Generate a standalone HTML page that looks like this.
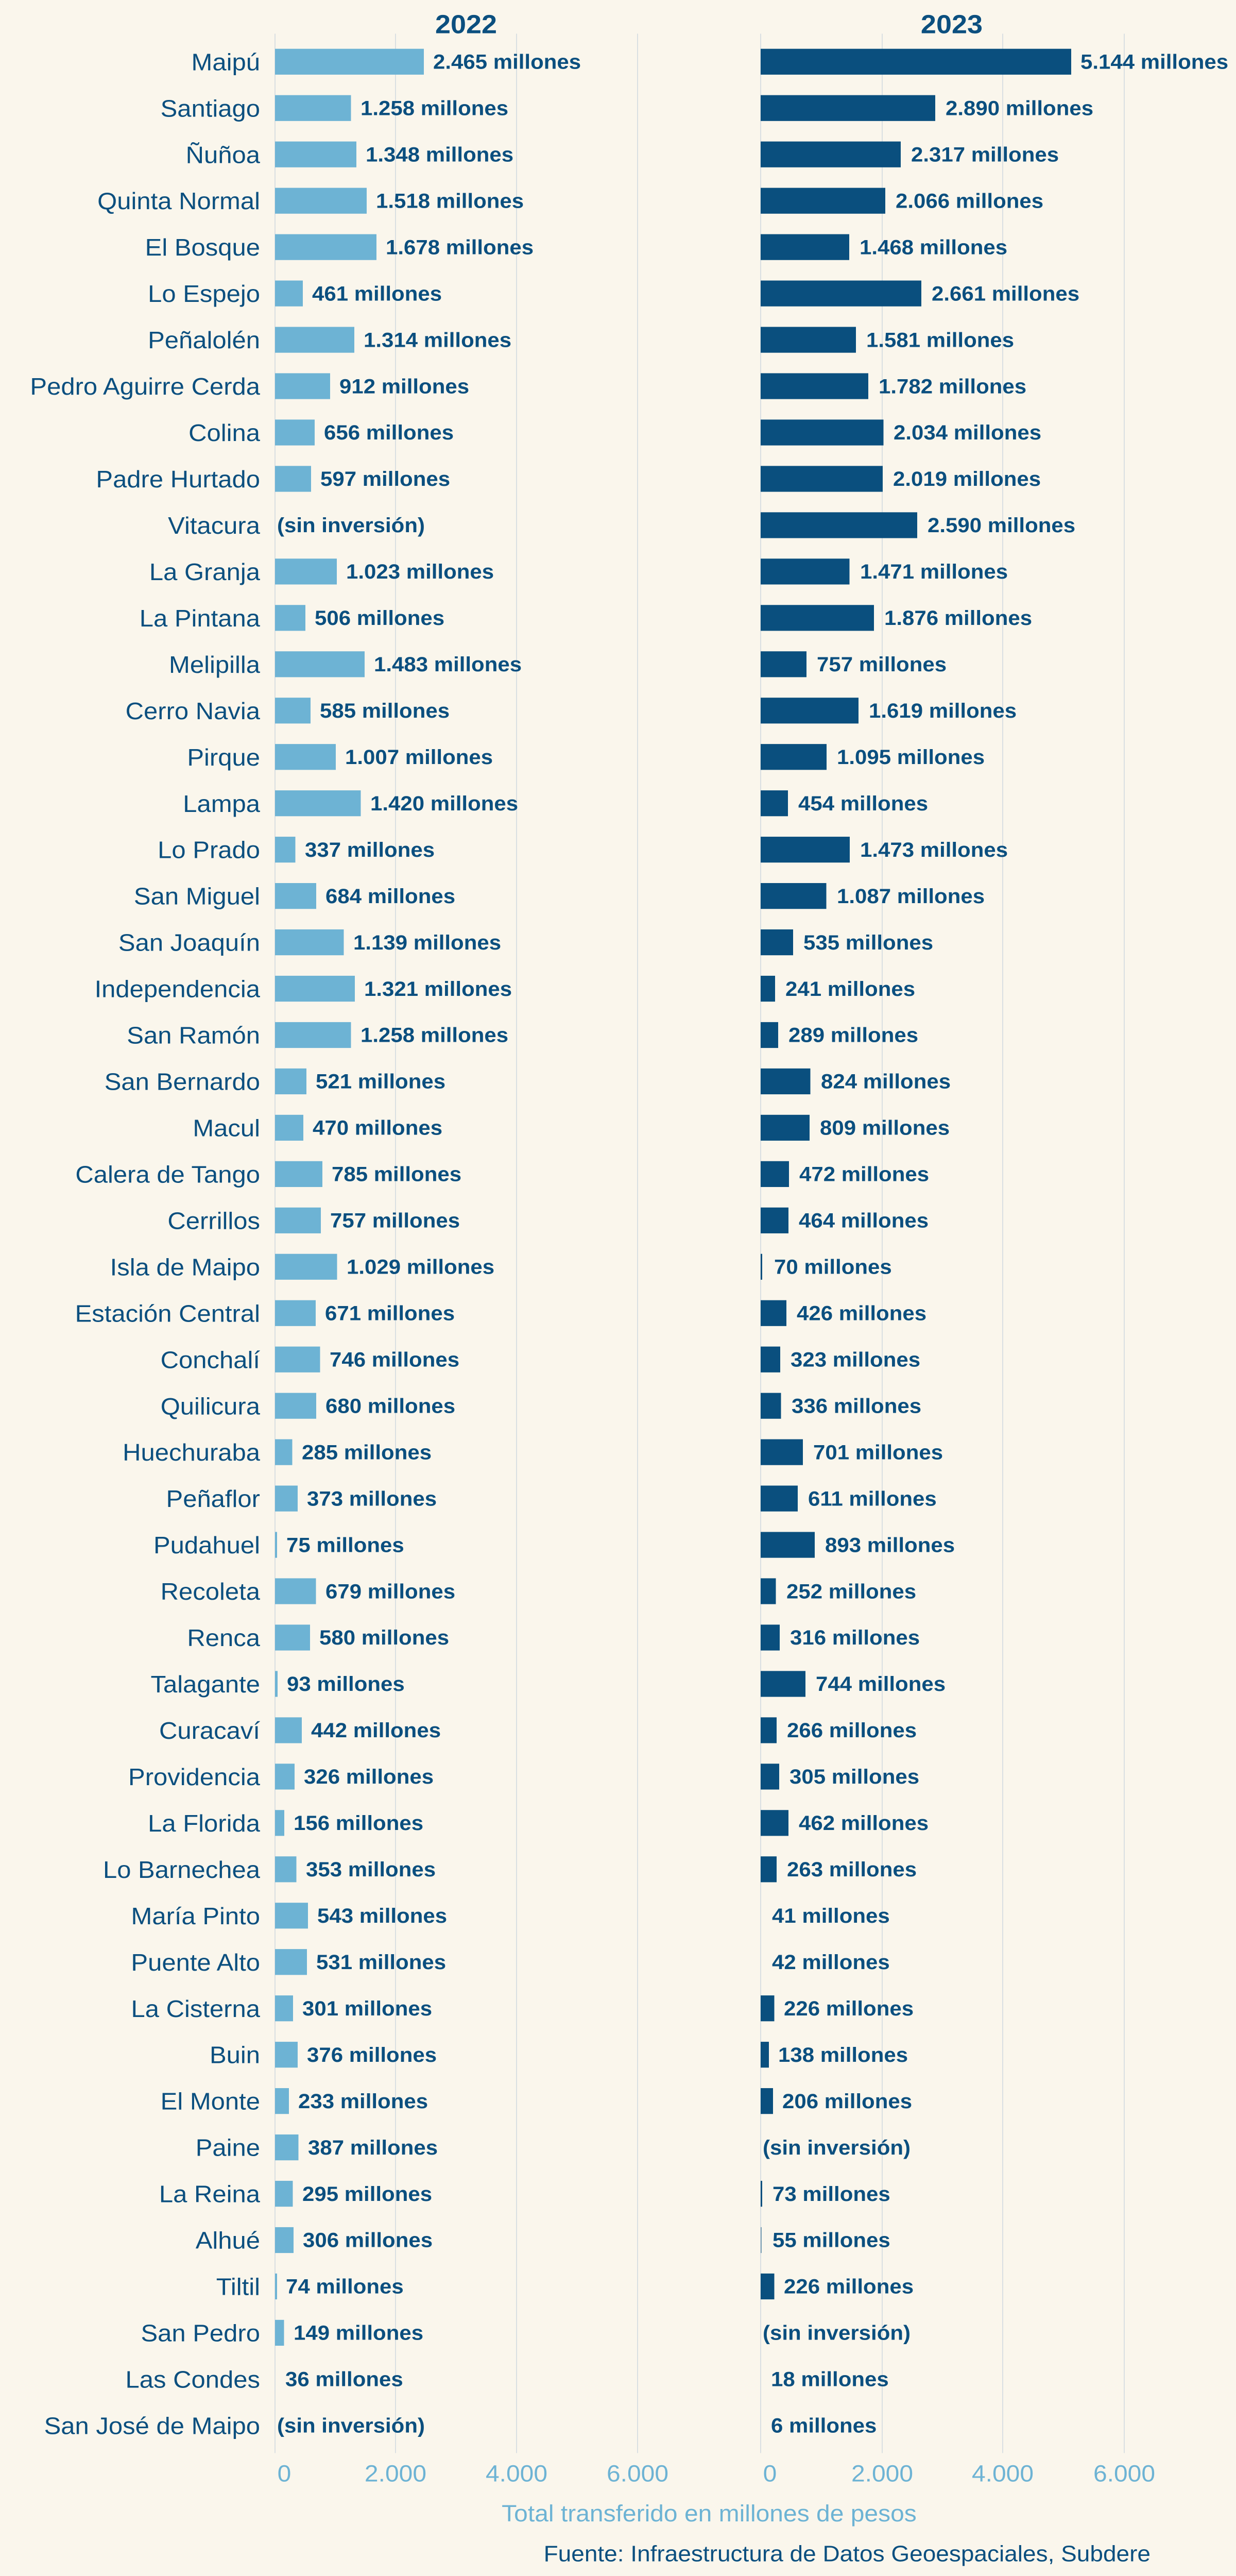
<!DOCTYPE html>
<html><head><meta charset="utf-8"><style>
html,body{margin:0;padding:0;background:#faf6ec;width:100%;height:100%;overflow:hidden;}
svg{display:block;position:fixed;left:0;top:0;width:100vw;height:100vh}
.l{font-family:"Liberation Sans",sans-serif;font-size:49px;fill:#0b4f7f;text-anchor:end}
.v{font-family:"Liberation Sans",sans-serif;font-size:42px;font-weight:bold;fill:#0b4f7f}
.t{font-family:"Liberation Sans",sans-serif;font-size:48px;fill:#6db3d4;text-anchor:middle}
.a{fill:#6db3d4}.b{fill:#0a4f7e}
</style></head><body>
<svg viewBox="0 0 2400 5280" preserveAspectRatio="none" xmlns="http://www.w3.org/2000/svg">
<rect width="2400" height="5280" fill="#faf6ec"/>
<g stroke="#d9dfe2" stroke-width="2">
<line x1="534" y1="69" x2="534" y2="5028"/><line x1="768" y1="69" x2="768" y2="5028"/><line x1="1003" y1="69" x2="1003" y2="5028"/><line x1="1238" y1="69" x2="1238" y2="5028"/>
<line x1="1477" y1="69" x2="1477" y2="5028"/><line x1="1713" y1="69" x2="1713" y2="5028"/><line x1="1947" y1="69" x2="1947" y2="5028"/><line x1="2183" y1="69" x2="2183" y2="5028"/>
</g>
<text x="905" y="68" font-family="Liberation Sans,sans-serif" font-size="54" font-weight="bold" fill="#0b4f7f" text-anchor="middle">2022</text>
<text x="1848" y="68" font-family="Liberation Sans,sans-serif" font-size="54" font-weight="bold" fill="#0b4f7f" text-anchor="middle">2023</text>

<g transform="translate(0,100)"><text class="l" x="505" y="44">Maipú</text><rect class="a" x="534" y="0" width="289" height="53"/><text class="v" x="841" y="41">2.465 millones</text><rect class="b" x="1477" y="0" width="603" height="53"/><text class="v" x="2098" y="41">5.144 millones</text></g>
<g transform="translate(0,195)"><text class="l" x="505" y="44">Santiago</text><rect class="a" x="534" y="0" width="147.5" height="53"/><text class="v" x="700" y="41">1.258 millones</text><rect class="b" x="1477" y="0" width="339" height="53"/><text class="v" x="1836" y="41">2.890 millones</text></g>
<g transform="translate(0,290)"><text class="l" x="505" y="44">Ñuñoa</text><rect class="a" x="534" y="0" width="158" height="53"/><text class="v" x="710" y="41">1.348 millones</text><rect class="b" x="1477" y="0" width="272" height="53"/><text class="v" x="1769" y="41">2.317 millones</text></g>
<g transform="translate(0,385)"><text class="l" x="505" y="44">Quinta Normal</text><rect class="a" x="534" y="0" width="178" height="53"/><text class="v" x="730" y="41">1.518 millones</text><rect class="b" x="1477" y="0" width="242" height="53"/><text class="v" x="1739" y="41">2.066 millones</text></g>
<g transform="translate(0,480)"><text class="l" x="505" y="44">El Bosque</text><rect class="a" x="534" y="0" width="197" height="53"/><text class="v" x="749" y="41">1.678 millones</text><rect class="b" x="1477" y="0" width="172" height="53"/><text class="v" x="1669" y="41">1.468 millones</text></g>
<g transform="translate(0,575)"><text class="l" x="505" y="44">Lo Espejo</text><rect class="a" x="534" y="0" width="54" height="53"/><text class="v" x="606" y="41">461 millones</text><rect class="b" x="1477" y="0" width="312" height="53"/><text class="v" x="1809" y="41">2.661 millones</text></g>
<g transform="translate(0,670)"><text class="l" x="505" y="44">Peñalolén</text><rect class="a" x="534" y="0" width="154" height="53"/><text class="v" x="706" y="41">1.314 millones</text><rect class="b" x="1477" y="0" width="185" height="53"/><text class="v" x="1682" y="41">1.581 millones</text></g>
<g transform="translate(0,765)"><text class="l" x="505" y="44">Pedro Aguirre Cerda</text><rect class="a" x="534" y="0" width="107" height="53"/><text class="v" x="659" y="41">912 millones</text><rect class="b" x="1477" y="0" width="209" height="53"/><text class="v" x="1706" y="41">1.782 millones</text></g>
<g transform="translate(0,860)"><text class="l" x="505" y="44">Colina</text><rect class="a" x="534" y="0" width="77" height="53"/><text class="v" x="629" y="41">656 millones</text><rect class="b" x="1477" y="0" width="238.5" height="53"/><text class="v" x="1735" y="41">2.034 millones</text></g>
<g transform="translate(0,955)"><text class="l" x="505" y="44">Padre Hurtado</text><rect class="a" x="534" y="0" width="70" height="53"/><text class="v" x="622" y="41">597 millones</text><rect class="b" x="1477" y="0" width="237" height="53"/><text class="v" x="1734" y="41">2.019 millones</text></g>
<g transform="translate(0,1050)"><text class="l" x="505" y="44">Vitacura</text><text class="v" x="538" y="41">(sin inversión)</text><rect class="b" x="1477" y="0" width="304" height="53"/><text class="v" x="1801" y="41">2.590 millones</text></g>
<g transform="translate(0,1145)"><text class="l" x="505" y="44">La Granja</text><rect class="a" x="534" y="0" width="120" height="53"/><text class="v" x="672" y="41">1.023 millones</text><rect class="b" x="1477" y="0" width="172.5" height="53"/><text class="v" x="1670" y="41">1.471 millones</text></g>
<g transform="translate(0,1240)"><text class="l" x="505" y="44">La Pintana</text><rect class="a" x="534" y="0" width="59" height="53"/><text class="v" x="611" y="41">506 millones</text><rect class="b" x="1477" y="0" width="220" height="53"/><text class="v" x="1717" y="41">1.876 millones</text></g>
<g transform="translate(0,1335)"><text class="l" x="505" y="44">Melipilla</text><rect class="a" x="534" y="0" width="174" height="53"/><text class="v" x="726" y="41">1.483 millones</text><rect class="b" x="1477" y="0" width="89" height="53"/><text class="v" x="1586" y="41">757 millones</text></g>
<g transform="translate(0,1430)"><text class="l" x="505" y="44">Cerro Navia</text><rect class="a" x="534" y="0" width="69" height="53"/><text class="v" x="621" y="41">585 millones</text><rect class="b" x="1477" y="0" width="190" height="53"/><text class="v" x="1687" y="41">1.619 millones</text></g>
<g transform="translate(0,1525)"><text class="l" x="505" y="44">Pirque</text><rect class="a" x="534" y="0" width="118" height="53"/><text class="v" x="670" y="41">1.007 millones</text><rect class="b" x="1477" y="0" width="128" height="53"/><text class="v" x="1625" y="41">1.095 millones</text></g>
<g transform="translate(0,1620)"><text class="l" x="505" y="44">Lampa</text><rect class="a" x="534" y="0" width="166.5" height="53"/><text class="v" x="719" y="41">1.420 millones</text><rect class="b" x="1477" y="0" width="53" height="53"/><text class="v" x="1550" y="41">454 millones</text></g>
<g transform="translate(0,1715)"><text class="l" x="505" y="44">Lo Prado</text><rect class="a" x="534" y="0" width="39.5" height="53"/><text class="v" x="592" y="41">337 millones</text><rect class="b" x="1477" y="0" width="173" height="53"/><text class="v" x="1670" y="41">1.473 millones</text></g>
<g transform="translate(0,1810)"><text class="l" x="505" y="44">San Miguel</text><rect class="a" x="534" y="0" width="80" height="53"/><text class="v" x="632" y="41">684 millones</text><rect class="b" x="1477" y="0" width="127.5" height="53"/><text class="v" x="1625" y="41">1.087 millones</text></g>
<g transform="translate(0,1905)"><text class="l" x="505" y="44">San Joaquín</text><rect class="a" x="534" y="0" width="133.5" height="53"/><text class="v" x="686" y="41">1.139 millones</text><rect class="b" x="1477" y="0" width="63" height="53"/><text class="v" x="1560" y="41">535 millones</text></g>
<g transform="translate(0,2000)"><text class="l" x="505" y="44">Independencia</text><rect class="a" x="534" y="0" width="155" height="53"/><text class="v" x="707" y="41">1.321 millones</text><rect class="b" x="1477" y="0" width="28" height="53"/><text class="v" x="1525" y="41">241 millones</text></g>
<g transform="translate(0,2095)"><text class="l" x="505" y="44">San Ramón</text><rect class="a" x="534" y="0" width="147.5" height="53"/><text class="v" x="700" y="41">1.258 millones</text><rect class="b" x="1477" y="0" width="34" height="53"/><text class="v" x="1531" y="41">289 millones</text></g>
<g transform="translate(0,2190)"><text class="l" x="505" y="44">San Bernardo</text><rect class="a" x="534" y="0" width="61" height="53"/><text class="v" x="613" y="41">521 millones</text><rect class="b" x="1477" y="0" width="96.5" height="53"/><text class="v" x="1594" y="41">824 millones</text></g>
<g transform="translate(0,2285)"><text class="l" x="505" y="44">Macul</text><rect class="a" x="534" y="0" width="55" height="53"/><text class="v" x="607" y="41">470 millones</text><rect class="b" x="1477" y="0" width="95" height="53"/><text class="v" x="1592" y="41">809 millones</text></g>
<g transform="translate(0,2380)"><text class="l" x="505" y="44">Calera de Tango</text><rect class="a" x="534" y="0" width="92" height="53"/><text class="v" x="644" y="41">785 millones</text><rect class="b" x="1477" y="0" width="55" height="53"/><text class="v" x="1552" y="41">472 millones</text></g>
<g transform="translate(0,2475)"><text class="l" x="505" y="44">Cerrillos</text><rect class="a" x="534" y="0" width="89" height="53"/><text class="v" x="641" y="41">757 millones</text><rect class="b" x="1477" y="0" width="54" height="53"/><text class="v" x="1551" y="41">464 millones</text></g>
<g transform="translate(0,2570)"><text class="l" x="505" y="44">Isla de Maipo</text><rect class="a" x="534" y="0" width="120.5" height="53"/><text class="v" x="673" y="41">1.029 millones</text><rect class="b" x="1477" y="0" width="3" height="53"/><text class="v" x="1503" y="41">70 millones</text></g>
<g transform="translate(0,2665)"><text class="l" x="505" y="44">Estación Central</text><rect class="a" x="534" y="0" width="79" height="53"/><text class="v" x="631" y="41">671 millones</text><rect class="b" x="1477" y="0" width="50" height="53"/><text class="v" x="1547" y="41">426 millones</text></g>
<g transform="translate(0,2760)"><text class="l" x="505" y="44">Conchalí</text><rect class="a" x="534" y="0" width="87.5" height="53"/><text class="v" x="640" y="41">746 millones</text><rect class="b" x="1477" y="0" width="38" height="53"/><text class="v" x="1535" y="41">323 millones</text></g>
<g transform="translate(0,2855)"><text class="l" x="505" y="44">Quilicura</text><rect class="a" x="534" y="0" width="80" height="53"/><text class="v" x="632" y="41">680 millones</text><rect class="b" x="1477" y="0" width="39.5" height="53"/><text class="v" x="1537" y="41">336 millones</text></g>
<g transform="translate(0,2950)"><text class="l" x="505" y="44">Huechuraba</text><rect class="a" x="534" y="0" width="33.5" height="53"/><text class="v" x="586" y="41">285 millones</text><rect class="b" x="1477" y="0" width="82" height="53"/><text class="v" x="1579" y="41">701 millones</text></g>
<g transform="translate(0,3045)"><text class="l" x="505" y="44">Peñaflor</text><rect class="a" x="534" y="0" width="44" height="53"/><text class="v" x="596" y="41">373 millones</text><rect class="b" x="1477" y="0" width="72" height="53"/><text class="v" x="1569" y="41">611 millones</text></g>
<g transform="translate(0,3140)"><text class="l" x="505" y="44">Pudahuel</text><rect class="a" x="534" y="0" width="4" height="53"/><text class="v" x="556" y="41">75 millones</text><rect class="b" x="1477" y="0" width="105" height="53"/><text class="v" x="1602" y="41">893 millones</text></g>
<g transform="translate(0,3235)"><text class="l" x="505" y="44">Recoleta</text><rect class="a" x="534" y="0" width="79.5" height="53"/><text class="v" x="632" y="41">679 millones</text><rect class="b" x="1477" y="0" width="29.5" height="53"/><text class="v" x="1527" y="41">252 millones</text></g>
<g transform="translate(0,3330)"><text class="l" x="505" y="44">Renca</text><rect class="a" x="534" y="0" width="68" height="53"/><text class="v" x="620" y="41">580 millones</text><rect class="b" x="1477" y="0" width="37" height="53"/><text class="v" x="1534" y="41">316 millones</text></g>
<g transform="translate(0,3425)"><text class="l" x="505" y="44">Talagante</text><rect class="a" x="534" y="0" width="5" height="53"/><text class="v" x="557" y="41">93 millones</text><rect class="b" x="1477" y="0" width="87" height="53"/><text class="v" x="1584" y="41">744 millones</text></g>
<g transform="translate(0,3520)"><text class="l" x="505" y="44">Curacaví</text><rect class="a" x="534" y="0" width="52" height="53"/><text class="v" x="604" y="41">442 millones</text><rect class="b" x="1477" y="0" width="31" height="53"/><text class="v" x="1528" y="41">266 millones</text></g>
<g transform="translate(0,3615)"><text class="l" x="505" y="44">Providencia</text><rect class="a" x="534" y="0" width="38" height="53"/><text class="v" x="590" y="41">326 millones</text><rect class="b" x="1477" y="0" width="36" height="53"/><text class="v" x="1533" y="41">305 millones</text></g>
<g transform="translate(0,3710)"><text class="l" x="505" y="44">La Florida</text><rect class="a" x="534" y="0" width="18" height="53"/><text class="v" x="570" y="41">156 millones</text><rect class="b" x="1477" y="0" width="54" height="53"/><text class="v" x="1551" y="41">462 millones</text></g>
<g transform="translate(0,3805)"><text class="l" x="505" y="44">Lo Barnechea</text><rect class="a" x="534" y="0" width="41.5" height="53"/><text class="v" x="594" y="41">353 millones</text><rect class="b" x="1477" y="0" width="31" height="53"/><text class="v" x="1528" y="41">263 millones</text></g>
<g transform="translate(0,3900)"><text class="l" x="505" y="44">María Pinto</text><rect class="a" x="534" y="0" width="64" height="53"/><text class="v" x="616" y="41">543 millones</text><text class="v" x="1499" y="41">41 millones</text></g>
<g transform="translate(0,3995)"><text class="l" x="505" y="44">Puente Alto</text><rect class="a" x="534" y="0" width="62" height="53"/><text class="v" x="614" y="41">531 millones</text><text class="v" x="1499" y="41">42 millones</text></g>
<g transform="translate(0,4090)"><text class="l" x="505" y="44">La Cisterna</text><rect class="a" x="534" y="0" width="35" height="53"/><text class="v" x="587" y="41">301 millones</text><rect class="b" x="1477" y="0" width="26.5" height="53"/><text class="v" x="1522" y="41">226 millones</text></g>
<g transform="translate(0,4185)"><text class="l" x="505" y="44">Buin</text><rect class="a" x="534" y="0" width="44" height="53"/><text class="v" x="596" y="41">376 millones</text><rect class="b" x="1477" y="0" width="16" height="53"/><text class="v" x="1511" y="41">138 millones</text></g>
<g transform="translate(0,4280)"><text class="l" x="505" y="44">El Monte</text><rect class="a" x="534" y="0" width="27" height="53"/><text class="v" x="579" y="41">233 millones</text><rect class="b" x="1477" y="0" width="24" height="53"/><text class="v" x="1519" y="41">206 millones</text></g>
<g transform="translate(0,4375)"><text class="l" x="505" y="44">Paine</text><rect class="a" x="534" y="0" width="45.5" height="53"/><text class="v" x="598" y="41">387 millones</text><text class="v" x="1481" y="41">(sin inversión)</text></g>
<g transform="translate(0,4470)"><text class="l" x="505" y="44">La Reina</text><rect class="a" x="534" y="0" width="34.5" height="53"/><text class="v" x="587" y="41">295 millones</text><rect class="b" x="1477" y="0" width="3" height="53"/><text class="v" x="1500" y="41">73 millones</text></g>
<g transform="translate(0,4565)"><text class="l" x="505" y="44">Alhué</text><rect class="a" x="534" y="0" width="36" height="53"/><text class="v" x="588" y="41">306 millones</text><rect class="b" x="1477" y="0" width="2" height="53" opacity="0.5"/><text class="v" x="1500" y="41">55 millones</text></g>
<g transform="translate(0,4660)"><text class="l" x="505" y="44">Tiltil</text><rect class="a" x="534" y="0" width="4" height="53"/><text class="v" x="555" y="41">74 millones</text><rect class="b" x="1477" y="0" width="26.5" height="53"/><text class="v" x="1522" y="41">226 millones</text></g>
<g transform="translate(0,4755)"><text class="l" x="505" y="44">San Pedro</text><rect class="a" x="534" y="0" width="17.5" height="53"/><text class="v" x="570" y="41">149 millones</text><text class="v" x="1481" y="41">(sin inversión)</text></g>
<g transform="translate(0,4850)"><text class="l" x="505" y="44">Las Condes</text><text class="v" x="554" y="41">36 millones</text><text class="v" x="1497" y="41">18 millones</text></g>
<g transform="translate(0,4945)"><text class="l" x="505" y="44">San José de Maipo</text><text class="v" x="538" y="41">(sin inversión)</text><text class="v" x="1497" y="41">6 millones</text></g>

<text class="t" x="552" y="5086">0</text><text class="t" x="768" y="5086">2.000</text><text class="t" x="1003" y="5086">4.000</text><text class="t" x="1238" y="5086">6.000</text>
<text class="t" x="1495" y="5086">0</text><text class="t" x="1713" y="5086">2.000</text><text class="t" x="1947" y="5086">4.000</text><text class="t" x="2183" y="5086">6.000</text>
<text class="t" x="1377" y="5168">Total transferido en millones de pesos</text>
<text x="2234" y="5250" font-family="Liberation Sans,sans-serif" font-size="46" fill="#0b4f7f" text-anchor="end">Fuente: Infraestructura de Datos Geoespaciales, Subdere</text>
</svg>
</body></html>
